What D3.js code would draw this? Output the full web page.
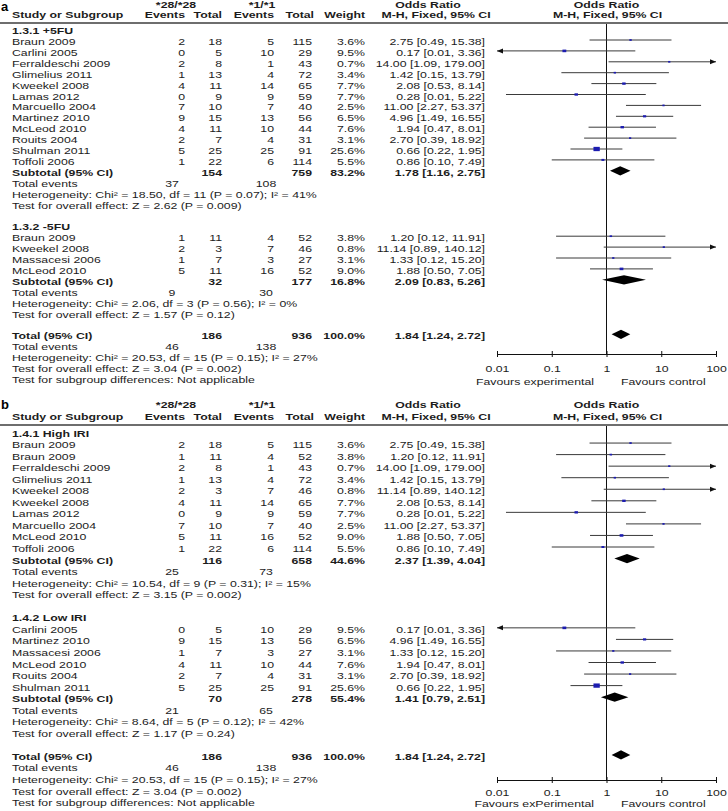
<!DOCTYPE html>
<html><head><meta charset="utf-8">
<script src="https://cdn.jsdelivr.net/npm/d3@7"></script>
<style>body{margin:0;background:#fff}svg{display:block}</style>
</head><body><svg id="c" width="728" height="811"></svg>
<script>
// ---------------- DATA ----------------
const orTicks = [0.01, 0.1, 1, 10, 100];
const orTickLabels = ["0.01", "0.1", "1", "10", "100"];

// Panel a — 1.3.1 +5FU
const a1Studies = ["Braun 2009","Carlini 2005","Ferraldeschi 2009","Glimelius 2011","Kweekel 2008","Lamas 2012","Marcuello 2004","Martinez 2010","McLeod 2010","Rouits 2004","Shulman 2011","Toffoli 2006"];
const a1Ev28 = [2,0,2,1,4,0,7,9,4,2,5,1];
const a1Tot28 = [18,5,8,13,11,9,10,15,11,7,25,22];
const a1Ev1 = [5,10,1,4,14,9,7,13,10,4,25,6];
const a1Tot1 = [115,29,43,72,65,59,40,56,44,31,91,114];
const a1Weight = [3.6,9.5,0.7,3.4,7.7,7.7,2.5,6.5,7.6,3.1,25.6,5.5];
const a1OR = [2.75,0.17,14.00,1.42,2.08,0.28,11.00,4.96,1.94,2.70,0.66,0.86];
const a1Lo = [0.49,0.0086,1.09,0.15,0.53,0.0146,2.27,1.49,0.47,0.39,0.22,0.10];
const a1Hi = [15.38,3.36,179.00,13.79,8.14,5.22,53.37,16.55,8.01,18.92,1.95,7.49];
const a1Subtotal = [154,759,83.2,1.78,1.16,2.75];
const a1Events = [37,108];
const a1Notes = ["Heterogeneity: Chi² = 18.50, df = 11 (P = 0.07); I² = 41%","Test for overall effect: Z = 2.62 (P = 0.009)"];

// Panel a — 1.3.2 -5FU
const a2Studies = ["Braun 2009","Kweekel 2008","Massacesi 2006","McLeod 2010"];
const a2Ev28 = [1,2,1,5];
const a2Tot28 = [11,3,7,11];
const a2Ev1 = [4,7,3,16];
const a2Tot1 = [52,46,27,52];
const a2Weight = [3.8,0.8,3.1,9.0];
const a2OR = [1.20,11.14,1.33,1.88];
const a2Lo = [0.12,0.89,0.12,0.50];
const a2Hi = [11.91,140.12,15.20,7.05];
const a2Subtotal = [32,177,16.8,2.09,0.83,5.26];
const a2Events = [9,30];
const a2Notes = ["Heterogeneity: Chi² = 2.06, df = 3 (P = 0.56); I² = 0%","Test for overall effect: Z = 1.57 (P = 0.12)"];

// Panel b — 1.4.1 High IRI
const b1Studies = ["Braun 2009","Braun 2009","Ferraldeschi 2009","Glimelius 2011","Kweekel 2008","Kweekel 2008","Lamas 2012","Marcuello 2004","McLeod 2010","Toffoli 2006"];
const b1Ev28 = [2,1,2,1,2,4,0,7,5,1];
const b1Tot28 = [18,11,8,13,3,11,9,10,11,22];
const b1Ev1 = [5,4,1,4,7,14,9,7,16,6];
const b1Tot1 = [115,52,43,72,46,65,59,40,52,114];
const b1Weight = [3.6,3.8,0.7,3.4,0.8,7.7,7.7,2.5,9.0,5.5];
const b1OR = [2.75,1.20,14.00,1.42,11.14,2.08,0.28,11.00,1.88,0.86];
const b1Lo = [0.49,0.12,1.09,0.15,0.89,0.53,0.0146,2.27,0.50,0.10];
const b1Hi = [15.38,11.91,179.00,13.79,140.12,8.14,5.22,53.37,7.05,7.49];
const b1Subtotal = [116,658,44.6,2.37,1.39,4.04];
const b1Events = [25,73];
const b1Notes = ["Heterogeneity: Chi² = 10.54, df = 9 (P = 0.31); I² = 15%","Test for overall effect: Z = 3.15 (P = 0.002)"];

// Panel b — 1.4.2 Low IRI
const b2Studies = ["Carlini 2005","Martinez 2010","Massacesi 2006","McLeod 2010","Rouits 2004","Shulman 2011"];
const b2Ev28 = [0,9,1,4,2,5];
const b2Tot28 = [5,15,7,11,7,25];
const b2Ev1 = [10,13,3,10,4,25];
const b2Tot1 = [29,56,27,44,31,91];
const b2Weight = [9.5,6.5,3.1,7.6,3.1,25.6];
const b2OR = [0.17,4.96,1.33,1.94,2.70,0.66];
const b2Lo = [0.0086,1.49,0.12,0.47,0.39,0.22];
const b2Hi = [3.36,16.55,15.20,8.01,18.92,1.95];
const b2Subtotal = [70,278,55.4,1.41,0.79,2.51];
const b2Events = [21,65];
const b2Notes = ["Heterogeneity: Chi² = 8.64, df = 5 (P = 0.12); I² = 42%","Test for overall effect: Z = 1.17 (P = 0.24)"];

// Overall (both panels)
const totalRow = [186,936,100.0,1.84,1.24,2.72];
const totalEvents = [46,138];
const totalNotes = ["Heterogeneity: Chi² = 20.53, df = 15 (P = 0.15); I² = 27%","Test for overall effect: Z = 3.04 (P = 0.002)","Test for subgroup differences: Not applicable"];

// ---------------- DRAWING ----------------
const svg = d3.select('#c');
const FF = "'Liberation Sans', Arial, Helvetica, sans-serif";
const SX = 1.5, FS = 8.2;
function T(g, x, y, s, o = {}) {
  return g.append('text')
    .attr('transform', `translate(${x},${y}) scale(${SX},1)`)
    .attr('text-anchor', o.a || 'start')
    .attr('font-family', FF).attr('font-size', o.fs || FS)
    .attr('font-weight', o.b ? 'bold' : 'normal')
    .attr('fill', o.c || '#1c1c1c').text(s);
}
const x = d3.scaleLog().domain([0.01, 100]).range([497, 716]);
const col = {name:12, ev28:185, tot28:222, ev1:274, tot1:312, w:365, or:485, te28:172, te1:266};
const fmtOR = (o,l,h) => `${o.toFixed(2)} [${l.toFixed(2)}, ${h.toFixed(2)}]`;
const sqW = d3.scaleSqrt().domain([0, 100]).range([0, 12.5]);
const sqH = d3.scaleSqrt().domain([0, 100]).range([0, 8.5]);

function group(label, names, e28, t28, e1, t1, w, or, lo, hi, sub, ev, notes) {
  const rows = [{type:'group', label}];
  names.forEach((n,i) => rows.push({type:'study', name:n, e28:e28[i], t28:t28[i], e1:e1[i], t1:t1[i], w:w[i], or:or[i], lo:lo[i], hi:hi[i]}));
  rows.push({type:'sub', label:'Subtotal (95% CI)', v:sub});
  rows.push({type:'events', v:ev});
  notes.forEach(t => rows.push({type:'note', text:t}));
  rows.push({type:'blank'});
  return rows;
}
function totalRows() {
  const rows = [{type:'sub', label:'Total (95% CI)', v:totalRow}, {type:'events', v:totalEvents}];
  totalNotes.forEach(t => rows.push({type:'note', text:t}));
  return rows;
}

const panels = [
  { letter:'a', letterY:11, h1:7.5, h2:17.5, rule:23, y0:29.1, dy:10.9, axisY:354, tickY:18, favY:385, fav:['Favours experimental','Favours control'],
    rows: [...group('1.3.1 +5FU', a1Studies, a1Ev28, a1Tot28, a1Ev1, a1Tot1, a1Weight, a1OR, a1Lo, a1Hi, a1Subtotal, a1Events, a1Notes),
           ...group('1.3.2 -5FU', a2Studies, a2Ev28, a2Tot28, a2Ev1, a2Tot1, a2Weight, a2OR, a2Lo, a2Hi, a2Subtotal, a2Events, a2Notes),
           ...totalRows()] },
  { letter:'b', letterY:409, h1:408, h2:420, rule:425, y0:431.5, dy:11.55, axisY:780, tickY:15.5, favY:806.5, fav:['Favours exPerimental','Favours control'],
    rows: [...group('1.4.1 High IRI', b1Studies, b1Ev28, b1Tot28, b1Ev1, b1Tot1, b1Weight, b1OR, b1Lo, b1Hi, b1Subtotal, b1Events, b1Notes),
           ...group('1.4.2 Low IRI', b2Studies, b2Ev28, b2Tot28, b2Ev1, b2Tot1, b2Weight, b2OR, b2Lo, b2Hi, b2Subtotal, b2Events, b2Notes),
           ...totalRows()] }
];

panels.forEach(p => {
  const g = svg.append('g');
  const y = d3.scaleLinear().domain([0, 1]).range([p.y0, p.y0 + p.dy]);
  const TB = 5; // text baseline offset from row centre

  g.append('text').attr('x', 1).attr('y', p.letterY).attr('font-family', FF)
    .attr('font-weight', 'bold').attr('font-size', 13).attr('fill', '#000').text(p.letter);

  // headers
  T(g, 176, p.h1, '*28/*28', {a:'middle', b:true});
  T(g, 262, p.h1, '*1/*1', {a:'middle', b:true});
  T(g, 428, p.h1, 'Odds Ratio', {a:'middle', b:true});
  T(g, x(1), p.h1, 'Odds Ratio', {a:'middle', b:true});
  T(g, col.name, p.h2, 'Study or Subgroup', {b:true});
  T(g, col.ev28, p.h2, 'Events', {a:'end', b:true});
  T(g, col.tot28, p.h2, 'Total', {a:'end', b:true});
  T(g, col.ev1, p.h2, 'Events', {a:'end', b:true});
  T(g, col.tot1 + 2, p.h2, 'Total', {a:'end', b:true});
  T(g, col.w, p.h2, 'Weight', {a:'end', b:true});
  T(g, 436, p.h2, 'M-H, Fixed, 95% CI', {a:'middle', b:true});
  T(g, x(1) + 1, p.h2, 'M-H, Fixed, 95% CI', {a:'middle', b:true});
  g.append('line').attr('x1', 0).attr('x2', 728).attr('y1', p.rule).attr('y2', p.rule)
    .attr('stroke', '#6e6e6e').attr('stroke-width', 2.2);

  // null line
  g.append('line').attr('x1', x(1)).attr('x2', x(1)).attr('y1', p.rule + 1).attr('y2', p.axisY)
    .attr('stroke', '#111').attr('stroke-width', 1);

  const [dmin, dmax] = x.domain();
  p.rows.forEach((r, i) => {
    const cy = y(i), ty = cy + TB;
    if (r.type === 'group') {
      T(g, col.name, ty, r.label, {b:true});
    } else if (r.type === 'study') {
      T(g, col.name, ty, r.name);
      T(g, col.ev28, ty, r.e28, {a:'end'});
      T(g, col.tot28, ty, r.t28, {a:'end'});
      T(g, col.ev1, ty, r.e1, {a:'end'});
      T(g, col.tot1, ty, r.t1, {a:'end'});
      T(g, col.w, ty, r.w.toFixed(1) + '%', {a:'end'});
      T(g, col.or, ty, fmtOR(r.or, r.lo, r.hi), {a:'end'});
      const lo = Math.max(r.lo, dmin), hi = Math.min(r.hi, dmax);
      g.append('line').attr('x1', x(lo)).attr('x2', x(hi)).attr('y1', cy).attr('y2', cy)
        .attr('stroke', '#3a3a3a').attr('stroke-width', 1);
      if (r.lo < dmin) {
        const xa = x(dmin);
        g.append('path').attr('d', `M${xa},${cy}L${xa + 6},${cy - 2.5}L${xa + 6},${cy + 2.5}Z`).attr('fill', '#111');
      }
      if (r.hi > dmax) {
        const xa = x(dmax);
        g.append('path').attr('d', `M${xa},${cy}L${xa - 6},${cy - 2.5}L${xa - 6},${cy + 2.5}Z`).attr('fill', '#111');
      }
      const w = Math.max(sqW(r.w), 2.2), h = Math.max(sqH(r.w), 1.7);
      g.append('rect').attr('x', x(r.or) - w / 2).attr('y', cy - h / 2).attr('width', w).attr('height', h)
        .attr('fill', '#1c1cb0');
    } else if (r.type === 'sub') {
      const [t28, t1, wt, o, l, h] = r.v;
      T(g, col.name, ty, r.label, {b:true});
      T(g, col.tot28, ty, t28, {a:'end', b:true});
      T(g, col.tot1, ty, t1, {a:'end', b:true});
      T(g, col.w, ty, wt.toFixed(1) + '%', {a:'end', b:true});
      T(g, col.or, ty, fmtOR(o, l, h), {a:'end', b:true});
      const dh = 4.6;
      g.append('path').attr('d', `M${x(l)},${cy}L${x(o)},${cy - dh}L${x(h)},${cy}L${x(o)},${cy + dh}Z`).attr('fill', '#000');
    } else if (r.type === 'events') {
      T(g, col.name, ty, 'Total events');
      T(g, col.te28, ty, r.v[0], {a:'middle'});
      T(g, col.te1, ty, r.v[1], {a:'middle'});
    } else if (r.type === 'note') {
      T(g, col.name, ty, r.text);
    }
  });

  // axis
  const ax = g.append('g').attr('transform', `translate(0,${p.axisY})`)
    .call(d3.axisBottom(x).tickValues(orTicks).tickFormat((d, i) => orTickLabels[i]).tickSizeOuter(0).tickSizeInner(3));
  ax.select('.domain').attr('stroke', '#111');
  ax.selectAll('.tick line').attr('y1', -3).attr('y2', 3).attr('stroke', '#111');
  ax.selectAll('.tick text').attr('y', null).attr('dy', null)
    .attr('transform', `translate(0,${p.tickY}) scale(${SX},1)`)
    .attr('font-family', FF).attr('font-size', FS).attr('fill', '#1c1c1c');
  T(g, 594, p.favY, p.fav[0], {a:'end'});
  T(g, 621, p.favY, p.fav[1]);
});
</script></body></html>
